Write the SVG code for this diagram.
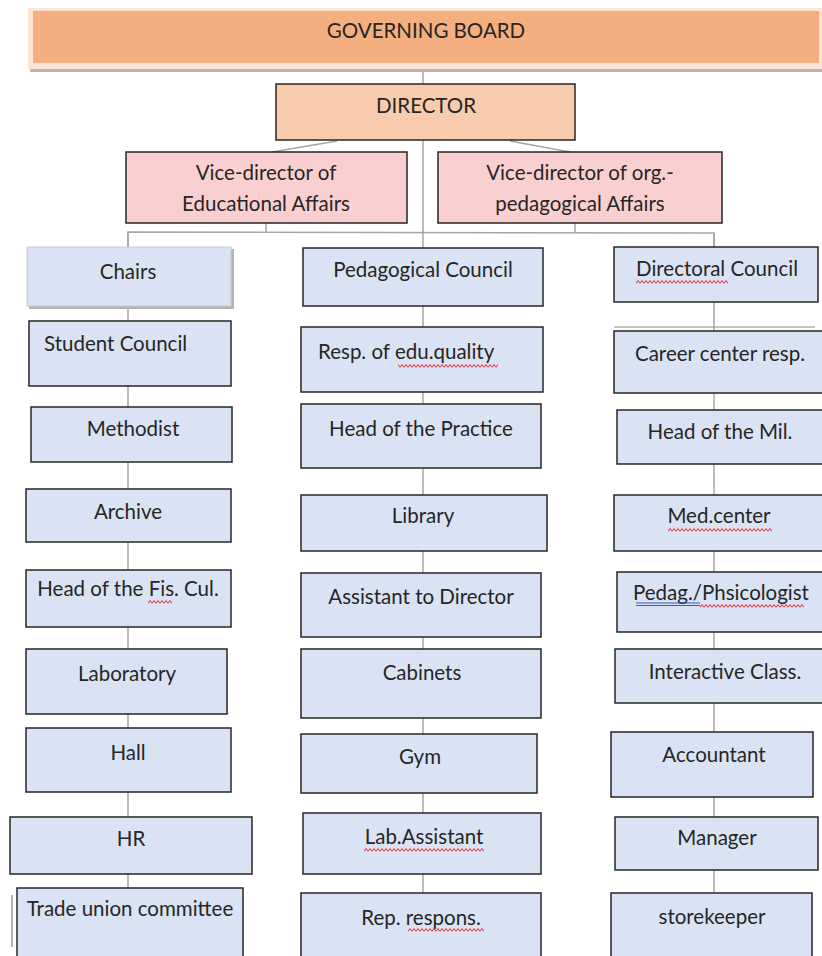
<svg xmlns="http://www.w3.org/2000/svg" width="822" height="956" viewBox="0 0 822 956">
<style>
.box{fill:#dae3f3;stroke:#262626;stroke-width:1.5}
.vice{fill:#f9d0cf;stroke:#262626;stroke-width:1.5}
.t{font-family:Lato,"Open Sans","Liberation Sans",sans-serif;font-size:20.5px;fill:#262626;text-anchor:middle}
.c{fill:none;stroke:#a6a6a6;stroke-width:1.5}
.wv{fill:url(#wave)}
.blue{fill:none;stroke:#2a5ec8;stroke-width:1}
</style>
<defs>
<pattern id="wave" x="0" y="0" width="4" height="4" patternUnits="userSpaceOnUse"><path d="M0 3.5 L2 0.5 L4 3.5" fill="none" stroke="#e0303a" stroke-width="1"/></pattern>
</defs>
<rect width="822" height="956" fill="#ffffff"/>
<g id="connectors">
<line class="c" x1="423" y1="70" x2="423" y2="893"/>
<line class="c" x1="337" y1="141" x2="272" y2="152"/>
<line class="c" x1="510" y1="141" x2="570" y2="152"/>
<line class="c" x1="266" y1="223" x2="266" y2="232"/>
<line class="c" x1="575" y1="223" x2="575" y2="233"/>
<polyline class="c" points="128,247 128,232 714,233 714,247"/>
<line class="c" x1="128" y1="232" x2="128" y2="888"/>
<line class="c" x1="714" y1="233" x2="714" y2="893"/>
</g>
<g id="governing-board">
<rect x="28" y="8" width="796" height="61" fill="#fbe4d4"/>
<rect x="33" y="11" width="786" height="52" fill="#f4ae7f"/>
<rect x="30" y="69" width="792" height="3" fill="#b9b2ad"/>
<text class="t" x="426" y="38" font-size="20">GOVERNING BOARD</text>
</g>
<g id="director">
<rect x="276" y="84" width="299" height="56" fill="#f8cbad" stroke="#262626" stroke-width="1.5"/>
<text class="t" x="426" y="113" font-size="19.5">DIRECTOR</text>
</g>
<g id="vice-educational">
<rect class="vice" x="126" y="152" width="281" height="71"/>
<text class="t" x="266" y="180" font-size="21">Vice-director of</text>
<text class="t" x="266" y="211" font-size="21">Educational Affairs</text>
</g>
<g id="vice-org-pedagogical">
<rect class="vice" x="438" y="152" width="284" height="71"/>
<text class="t" x="580" y="180" font-size="21">Vice-director of org.-</text>
<text class="t" x="580" y="211" font-size="21">pedagogical Affairs</text>
</g>
<g id="chairs">
<rect x="29" y="249" width="205" height="60" fill="#b3b3b3"/>
<rect x="27" y="247" width="204" height="59" fill="#dae3f3" stroke="#c8ccd6" stroke-width="1"/>
<text class="t" x="128" y="279">Chairs</text>
</g>
<g id="student-council">
<rect class="box" x="29" y="321" width="202" height="65"/>
<text class="t" x="44" y="351" style="text-anchor:start">Student Council</text>
</g>
<g id="methodist">
<rect class="box" x="31" y="407" width="201" height="55"/>
<text class="t" x="133" y="436">Methodist</text>
</g>
<g id="archive">
<rect class="box" x="26" y="489" width="205" height="53"/>
<text class="t" x="128" y="519">Archive</text>
</g>
<g id="head-fis-cul">
<rect class="box" x="26" y="570" width="205" height="57"/>
<text class="t" x="128" y="596" font-size="18.5">Head of the Fis. Cul.</text>
<rect class="wv" x="148" y="600" width="24" height="4"/>
</g>
<g id="laboratory">
<rect class="box" x="26" y="649" width="201" height="65"/>
<text class="t" x="127" y="681">Laboratory</text>
</g>
<g id="hall">
<rect class="box" x="26" y="728" width="205" height="64"/>
<text class="t" x="128" y="760">Hall</text>
</g>
<g id="hr">
<rect class="box" x="10" y="817" width="242" height="57"/>
<text class="t" x="131" y="846">HR</text>
</g>
<g id="trade-union">
<line x1="12" y1="895" x2="12" y2="947" stroke="#9a9a9a" stroke-width="1.5"/>
<rect class="box" x="17" y="888" width="226" height="72"/>
<text class="t" x="130" y="916" font-size="17.5">Trade union committee</text>
</g>
<g id="pedagogical-council">
<rect class="box" x="303" y="248" width="240" height="58"/>
<text class="t" x="423" y="277">Pedagogical Council</text>
</g>
<g id="resp-edu-quality">
<rect class="box" x="301" y="327" width="242" height="65"/>
<text class="t" x="318" y="359" style="text-anchor:start">Resp. of edu.quality</text>
<rect class="wv" x="398" y="364" width="100" height="4"/>
</g>
<g id="head-practice">
<rect class="box" x="301" y="404" width="240" height="64"/>
<text class="t" x="421" y="436">Head of the Practice</text>
</g>
<g id="library">
<rect class="box" x="301" y="495" width="246" height="56"/>
<text class="t" x="423" y="523">Library</text>
</g>
<g id="assistant-director">
<rect class="box" x="301" y="573" width="240" height="64"/>
<text class="t" x="421" y="604">Assistant to Director</text>
</g>
<g id="cabinets">
<rect class="box" x="301" y="649" width="240" height="69"/>
<text class="t" x="422" y="680">Cabinets</text>
</g>
<g id="gym">
<rect class="box" x="301" y="734" width="236" height="59"/>
<text class="t" x="420" y="764">Gym</text>
</g>
<g id="lab-assistant">
<rect class="box" x="303" y="813" width="238" height="61"/>
<text class="t" x="424" y="844">Lab.Assistant</text>
<rect class="wv" x="364" y="848" width="120" height="4"/>
</g>
<g id="rep-respons">
<rect class="box" x="301" y="893" width="240" height="67"/>
<text class="t" x="421" y="925">Rep. respons.</text>
<rect class="wv" x="408" y="928" width="76" height="4"/>
</g>
<g id="directoral-council">
<rect class="box" x="614" y="247" width="204" height="55"/>
<text class="t" x="717" y="276">Directoral Council</text>
<rect class="wv" x="636" y="280" width="92" height="4"/>
</g>
<g id="career-center">
<line x1="614" y1="327" x2="815" y2="327" stroke="#8c8c8c" stroke-width="1"/>
<rect class="box" x="614" y="331" width="212" height="62"/>
<text class="t" x="720" y="361">Career center resp.</text>
</g>
<g id="head-mil">
<rect class="box" x="617" y="410" width="209" height="54"/>
<text class="t" x="720" y="439">Head of the Mil.</text>
</g>
<g id="med-center">
<rect class="box" x="614" y="495" width="212" height="56"/>
<text class="t" x="719" y="523">Med.center</text>
<rect class="wv" x="668" y="528" width="104" height="4"/>
</g>
<g id="pedag-psychologist">
<rect class="box" x="617" y="572" width="209" height="60"/>
<text class="t" x="721" y="600" font-size="17">Pedag./Phsicologist</text>
<line class="blue" x1="636" y1="603" x2="700" y2="603"/>
<line class="blue" x1="636" y1="605.5" x2="700" y2="605.5"/>
<rect class="wv" x="700" y="604" width="104" height="4"/>
</g>
<g id="interactive-class">
<rect class="box" x="615" y="649" width="211" height="54"/>
<text class="t" x="725" y="679">Interactive Class.</text>
</g>
<g id="accountant">
<rect class="box" x="611" y="732" width="202" height="65"/>
<text class="t" x="714" y="762" font-size="19">Accountant</text>
</g>
<g id="manager">
<rect class="box" x="615" y="817" width="203" height="53"/>
<text class="t" x="717" y="845">Manager</text>
</g>
<g id="storekeeper">
<rect class="box" x="611" y="893" width="201" height="67"/>
<text class="t" x="712" y="924">storekeeper</text>
</g>
</svg>
